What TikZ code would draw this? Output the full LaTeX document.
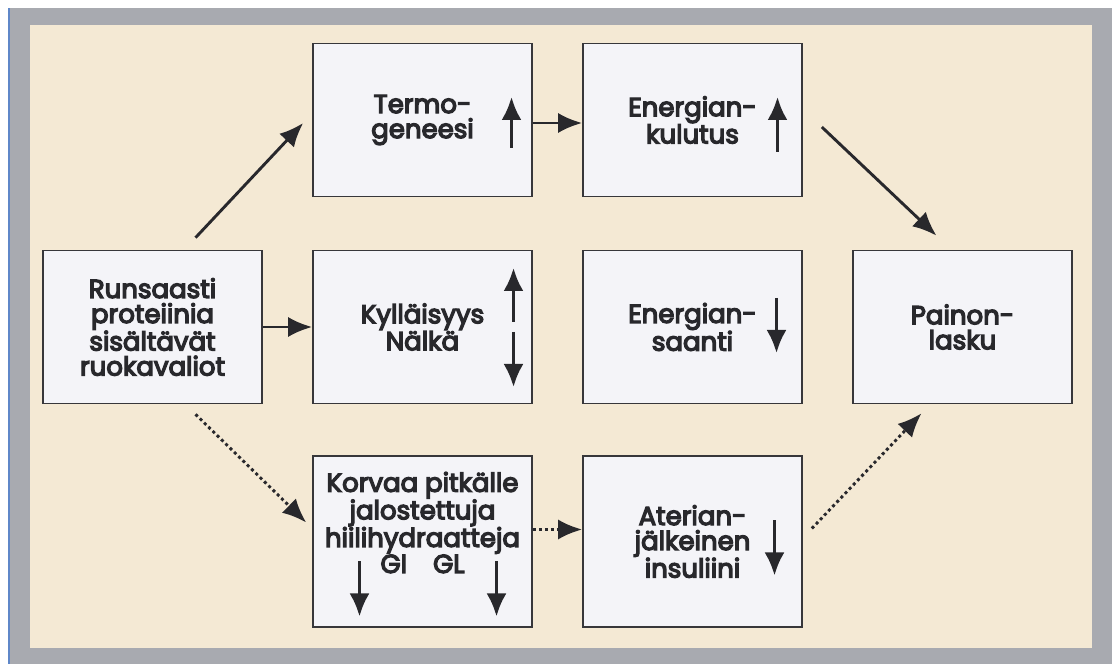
\documentclass[tikz,border=0pt]{standalone}
\usepackage{fontspec}
\setmainfont{Poppins}[FakeBold=5]
\usetikzlibrary{arrows.meta}

\definecolor{paper}{RGB}{244,233,212}
\definecolor{frame}{RGB}{168,170,176}
\definecolor{stripe}{RGB}{95,135,200}
\definecolor{boxfill}{RGB}{244,244,248}
\definecolor{boxline}{RGB}{55,55,58}
\definecolor{ink}{RGB}{40,40,44}

\begin{document}
\begin{tikzpicture}[x=1pt,y=1pt,
      node distance=270pt,
      main node/.style={rectangle,draw=boxline,fill=boxfill,line width=1.6pt,
        minimum width=219pt,minimum height=153pt,align=center,text=ink,
        font=\fontsize{26}{25}\selectfont},
      link/.style={-{Latex[length=24pt,width=20pt]},color=ink,line width=2.9pt},
      trend/.style={-{Latex[length=23pt,width=20pt]},draw=ink,line width=3.3pt}]
    \useasboundingbox (0,0) rectangle (1112,664);
    % page, frame and paper
    \fill[white] (0,0) rectangle (1112,664);
    \fill[frame] (10,0) rectangle (1112,656);
    \fill[stripe] (8,0) rectangle (10,656);
    \fill[paper] (30,16) rectangle (1092,639);

    \node[main node] (runs) at (152.5,337) {Runsaasti\\proteiinia\\sisältävät\\ruokavaliot};
    \node[main node] (kyl) [right of=runs] {Kylläisyys\\Nälkä};
    \node[main node] (saanti) [right of=kyl] {Energian-\\saanti};
    \node[main node] (paino) [right of=saanti] {Painon-\\lasku};
    \node[main node] (termo) [above of=kyl,node distance=207pt] {Termo-\\geneesi};
    \node[main node] (kulutus) [right of=termo] {Energian-\\kulutus};
    \node[main node,minimum height=171pt,text depth=38pt] (korvaa) [below of=kyl,node distance=214.5pt]
      {Korvaa pitkälle\\jalostettuja\\hiilihydraatteja\\GI\quad GL};
    \node[main node,minimum height=171pt] (ateria) [right of=korvaa] {Aterian-\\jälkeinen\\insuliini};

    \path[link]
    ([shift={(43,12)}]runs.north) edge ([shift={(-9,-3)}]termo.west)
    ([yshift=-3pt]termo.east) edge ([yshift=-3pt]kulutus.west)
    ([shift={(19,-7)}]kulutus.east) edge ([shift={(-26,14)}]paino.north)
    (runs.east) edge (kyl.west)
    ([shift={(43,-10)}]runs.south) edge[dash pattern=on 3pt off 3pt] ([shift={(-6,19)}]korvaa.west)
    ([yshift=12pt]korvaa.east) edge[dash pattern=on 3pt off 3pt] ([yshift=12pt]ateria.west)
    ([shift={(9,13)}]ateria.east) edge[dash pattern=on 3pt off 3pt] ([shift={(-41,-9)}]paino.south)
    ;

    % up and down marks inside the boxes
    \draw[trend] ([shift={(89,-28)}]termo.center) -- ++(0,51);
    \draw[trend] ([shift={(85,-32)}]kulutus.center) -- ++(0,55);
    \draw[trend] ([shift={(91,5)}]kyl.center) -- ++(0,54);
    \draw[trend] ([shift={(91,-5)}]kyl.center) -- ++(0,-55);
    \draw[trend] ([shift={(84,29)}]saanti.center) -- ++(0,-55);
    \draw[trend] ([shift={(-63,-20)}]korvaa.center) -- ++(0,-55);
    \draw[trend] ([shift={(74,-20)}]korvaa.center) -- ++(0,-55);
    \draw[trend] ([shift={(82,21)}]ateria.center) -- ++(0,-55);
  \end{tikzpicture}
\end{document}
